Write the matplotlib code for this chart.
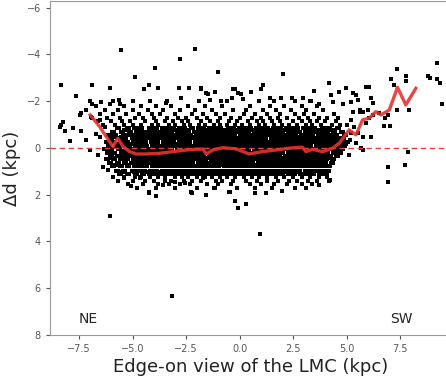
import numpy as np
import matplotlib
matplotlib.use("Agg")
import matplotlib.pyplot as plt

# running median of the offset along the edge-on axis (red curve)
med_x = [-6.98, -6.54, -6.23, -5.92, -5.69, -5.45, -5.14, -4.83, -4.36, -3.74, -3.12, -2.49,
         -2.02, -1.71, -1.56, -1.25, -0.79, -0.17, 0.45, 1.07, 1.70, 2.32, 2.94, 3.10, 3.41,
         3.88, 4.35, 4.66, 5.12, 5.44, 5.75, 6.06, 6.37, 6.60, 7.00, 7.38, 7.77, 8.24]
med_y = [-1.41, -0.91, -0.48, -0.06, -0.41, -0.06, 0.16, 0.26, 0.26, 0.23, 0.16, 0.09,
         0.06, 0.05, 0.26, 0.09, -0.01, 0.04, 0.26, 0.16, 0.09, 0.01, -0.03, 0.16, 0.06,
         0.16, 0.01, -0.20, -0.77, -0.56, -1.20, -1.27, -1.55, -1.41, -1.62, -2.59, -1.84, -2.55]

# dense body of the star sample, one row of x positions per delta-d level
core_rows = {
    -0.83: [-5.7, -5.2, -4.9, -4.6, -4.2, -3.9, -3.6, -3.4, -3.1, -2.8, -2.6, -2.2, -1.9, -1.7, -1.4,
            -1.2, -0.9, -0.5, -0.3, 0.0, 0.3, 0.5, 0.8, 1.1, 1.3, 1.6, 1.9, 2.2, 2.4, 2.7, 3.0, 3.3,
            3.5, 3.9, 4.2, 4.6],
    -0.69: [-5.9, -5.5, -5.1, -4.8, -4.5, -4.3, -4.0, -3.7, -3.45, -3.2, -2.9, -2.7, -2.4, -2.1,
            -1.85, -1.55, -1.3, -1.05, -0.8, -0.6, -0.4, -0.1, 0.15, 0.4, 0.7, 0.95, 1.2, 1.45, 1.7,
            2.0, 2.3, 2.55, 2.8, 3.1, 3.35, 3.6, 3.85, 4.1, 4.4, 4.8],
    -0.54: [-6.1, -5.8, -5.4, -5.15, -4.9, -4.65, -4.4, -4.15, -3.85, -3.6, -3.35, -3.05, -2.85,
            -2.6, -2.3, -2.0, -1.75, -1.5, -1.25, -1.0, -0.75, -0.5, -0.25, 0.05, 0.3, 0.55, 0.8,
            1.05, 1.35, 1.6, 1.85, 2.1, 2.35, 2.6, 2.9, 3.15, 3.4, 3.7, 3.95, 4.25, 4.5, 4.95],
    -0.41: [-6.0, -5.65, -5.35, -5.0, -4.75, -4.5, -4.25, -3.95, -3.7, -3.45, -3.25, -2.95, -2.7,
            -2.45, -2.2, -1.95, -1.65, -1.4, -1.15, -0.9, -0.65, -0.45, -0.2, 0.0, 0.25, 0.5, 0.75,
            1.0, 1.2, 1.5, 1.75, 2.0, 2.25, 2.5, 2.75, 3.0, 3.3, 3.55, 3.8, 4.05, 4.3, 4.6, 4.85],
    -0.26: [-6.2, -5.9, -5.55, -5.25, -4.95, -4.7, -4.4, -4.1, -3.85, -3.55, -3.3, -3.1, -2.8,
            -2.55, -2.35, -2.05, -1.8, -1.55, -1.3, -1.05, -0.8, -0.55, -0.3, -0.05, 0.2, 0.45,
            0.65, 0.9, 1.15, 1.4, 1.65, 1.9, 2.15, 2.4, 2.65, 2.9, 3.15, 3.45, 3.7, 3.95, 4.2, 4.45,
            4.75, 5.0],
    -0.09: [-6.1, -5.75, -5.45, -5.15, -4.85, -4.6, -4.35, -4.05, -3.8, -3.55, -3.25, -3.0, -2.75,
            -2.5, -2.25, -2.0, -1.7, -1.45, -1.2, -0.95, -0.7, -0.45, -0.2, 0.05, 0.3, 0.55, 0.8,
            1.05, 1.3, 1.55, 1.8, 2.05, 2.3, 2.55, 2.8, 3.05, 3.3, 3.6, 3.85, 4.1, 4.35, 4.65, 4.9],
    0.04: [-6.3, -6.0, -5.65, -5.3, -5.05, -4.8, -4.5, -4.25, -3.95, -3.7, -3.45, -3.2, -2.9, -2.65,
           -2.4, -2.15, -1.9, -1.6, -1.35, -1.1, -0.85, -0.6, -0.35, -0.1, 0.15, 0.4, 0.7, 0.95, 1.2,
           1.45, 1.7, 1.95, 2.2, 2.45, 2.7, 2.95, 3.2, 3.5, 3.75, 4.0, 4.25, 4.5, 4.8],
    0.21: [-6.15, -5.85, -5.5, -5.2, -4.95, -4.65, -4.4, -4.15, -3.9, -3.6, -3.35, -3.1, -2.85,
           -2.6, -2.3, -2.05, -1.8, -1.55, -1.3, -1.0, -0.75, -0.5, -0.25, 0.0, 0.25, 0.5, 0.75,
           1.0, 1.25, 1.5, 1.75, 2.0, 2.3, 2.55, 2.8, 3.05, 3.35, 3.6, 3.85, 4.1, 4.4, 4.7],
    0.34: [-6.0, -5.7, -5.4, -5.1, -4.85, -4.55, -4.3, -4.0, -3.75, -3.5, -3.25, -2.95, -2.7, -2.45,
           -2.2, -1.95, -1.7, -1.4, -1.15, -0.9, -0.65, -0.4, -0.15, 0.1, 0.35, 0.6, 0.85, 1.1, 1.35,
           1.6, 1.85, 2.15, 2.4, 2.65, 2.9, 3.15, 3.45, 3.7, 3.95, 4.25, 4.55],
    0.49: [-6.2, -5.85, -5.55, -5.25, -4.95, -4.7, -4.45, -4.2, -3.9, -3.65, -3.4, -3.15, -2.9,
           -2.6, -2.35, -2.1, -1.85, -1.6, -1.3, -1.05, -0.8, -0.55, -0.3, -0.05, 0.2, 0.45, 0.7,
           0.95, 1.2, 1.45, 1.75, 2.0, 2.25, 2.5, 2.75, 3.0, 3.3, 3.55, 3.8, 4.05, 4.35],
    0.66: [-6.05, -5.7, -5.35, -5.05, -4.8, -4.5, -4.25, -3.95, -3.7, -3.45, -3.2, -2.95, -2.7,
           -2.45, -2.2, -1.9, -1.65, -1.4, -1.15, -0.9, -0.65, -0.4, -0.15, 0.1, 0.35, 0.6, 0.9,
           1.15, 1.4, 1.65, 1.9, 2.15, 2.4, 2.7, 2.95, 3.2, 3.5, 3.75, 4.0, 4.3],
    0.79: [-5.9, -5.55, -5.2, -4.9, -4.6, -4.35, -4.05, -3.8, -3.55, -3.3, -3.05, -2.8, -2.5, -2.25,
           -2.0, -1.75, -1.5, -1.25, -1.0, -0.7, -0.45, -0.2, 0.05, 0.3, 0.55, 0.8, 1.05, 1.3, 1.55,
           1.85, 2.1, 2.35, 2.6, 2.85, 3.1, 3.4, 3.65, 3.95, 4.2],
    0.97: [-5.75, -5.4, -5.0, -4.7, -4.45, -4.15, -3.9, -3.6, -3.35, -3.1, -2.85, -2.55, -2.3,
           -2.05, -1.8, -1.55, -1.3, -1.05, -0.8, -0.55, -0.3, -0.05, 0.2, 0.5, 0.75, 1.0, 1.25,
           1.5, 1.8, 2.05, 2.3, 2.55, 2.8, 3.1, 3.35, 3.6, 3.9, 4.15],
    1.12: [-5.6, -5.2, -4.85, -4.5, -4.2, -3.95, -3.65, -3.4, -3.1, -2.85, -2.6, -2.3, -2.05, -1.8,
           -1.5, -1.25, -0.95, -0.7, -0.45, -0.15, 0.1, 0.4, 0.65, 0.9, 1.2, 1.45, 1.75, 2.0, 2.3,
           2.55, 2.85, 3.15, 3.45, 3.75, 4.05],
}

# extra stars sitting between the rows above
fill_rows = {
    -0.76: [-5.35, -4.72, -4.1, -3.52, -3.0, -2.5, -1.6, -1.05, -0.7, -0.2, 0.55, 0.9, 1.4, 2.1,
            2.65, 3.2, 3.75, 4.3],
    -0.47: [-5.9, -5.5, -4.8, -4.35, -3.9, -3.2, -2.75, -2.1, -1.6, -1.1, -0.55, 0.1, 0.65, 1.1,
            1.7, 2.2, 2.8, 3.25, 3.85, 4.4],
    -0.17: [-5.7, -5.1, -4.5, -4.0, -3.4, -2.9, -2.4, -1.9, -1.35, -0.85, -0.35, 0.15, 0.7, 1.2,
            1.75, 2.25, 2.75, 3.3, 3.8, 4.3, 4.95],
    0.12: [-6.05, -5.4, -4.85, -4.3, -3.8, -3.25, -2.7, -2.2, -1.7, -1.2, -0.7, -0.2, 0.3, 0.85,
           1.35, 1.85, 2.35, 2.9, 3.4, 3.95, 4.45],
    0.42: [-5.95, -5.3, -4.7, -4.1, -3.6, -3.05, -2.55, -2.0, -1.5, -1.0, -0.5, 0.0, 0.5, 1.0, 1.5,
           2.05, 2.55, 3.05, 3.6, 4.1],
    0.72: [-5.8, -5.2, -4.6, -4.05, -3.5, -3.0, -2.4, -1.85, -1.3, -0.8, -0.25, 0.25, 0.75, 1.3,
           1.8, 2.3, 2.85, 3.35, 3.9],
    1.04: [-5.5, -4.9, -4.3, -3.75, -3.2, -2.7, -2.15, -1.6, -1.1, -0.6, -0.05, 0.45, 1.0, 1.6,
           2.15, 2.7, 3.3, 3.85],
}

# thinner edges of the body
edge_rows = {
    -1.0: [-6.4, -5.8, -5.4, -5.0, -4.6, -4.1, -3.8, -3.3, -3.0, -2.6, -2.3, -1.9, -1.6, -1.2, -0.9,
           -0.6, -0.2, 0.1, 0.5, 0.9, 1.2, 1.6, 2.0, 2.3, 2.7, 3.1, 3.4, 3.8, 4.3, 4.7],
    -1.15: [-6.6, -6.0, -5.5, -5.1, -4.4, -3.9, -3.5, -3.1, -2.7, -2.4, -1.8, -1.4, -1.0, -0.5,
            -0.1, 0.4, 0.8, 1.1, 1.5, 1.9, 2.5, 2.9, 3.3, 3.6, 4.0, 4.5],
    -1.3: [-6.9, -6.2, -5.6, -4.9, -4.5, -4.0, -3.4, -2.9, -2.5, -2.0, -1.5, -0.9, -0.4, 0.0, 0.6,
           1.0, 1.4, 1.8, 2.2, 2.8, 3.2, 3.7, 4.1, 4.6],
    -1.45: [-6.5, -5.9, -5.3, -4.7, -4.1, -3.7, -3.0, -2.2, -1.7, -1.1, -0.7, 0.2, 0.7, 1.3, 1.9,
            2.6, 3.0, 3.5, 4.4],
    -1.6: [-7.2, -6.3, -5.7, -5.0, -4.3, -3.6, -2.8, -2.1, -1.3, -0.3, 0.3, 1.1, 1.7, 2.4, 3.1, 3.9],
    -1.8: [-6.7, -5.4, -4.6, -3.9, -3.2, -2.4, -1.6, -0.8, 0.5, 1.4, 2.1, 2.9, 3.6],
    -2.0: [-7.0, -5.9, -5.0, -4.2, -3.4, -1.9, -0.6, 0.9, 1.6, 2.6, 3.3],
    1.26: [-5.9, -5.4, -4.9, -4.6, -4.2, -3.8, -3.5, -3.0, -2.7, -2.4, -2.0, -1.6, -1.3, -0.9, -0.6,
           -0.2, 0.2, 0.6, 0.9, 1.3, 1.7, 2.1, 2.5, 2.9, 3.3, 3.7, 4.1],
    1.4: [-5.7, -5.0, -4.4, -4.0, -3.5, -3.2, -2.6, -2.2, -1.8, -1.1, -0.8, -0.3, 0.3, 0.8, 1.3,
          1.8, 2.3, 2.7, 3.2, 3.6, 4.2],
    1.55: [-5.2, -4.5, -3.8, -3.3, -2.8, -2.3, -1.5, -1.0, -0.4, 0.5, 1.0, 1.6, 2.2, 2.9, 3.4],
    1.7: [-4.8, -3.9, -3.0, -2.0, -1.2, -0.1, 0.7, 1.5, 2.6, 3.1],
}

# scattered stars outside the body
ne_pts = [(-8.33, -2.69), (-7.66, -2.24), (-6.88, -2.69), (-6.07, -2.58), (-6.88, -1.88),
          (-6.46, -1.95), (-6.07, -1.87), (-5.64, -2.05), (-5.57, -1.88), (-7.40, -1.51),
          (-8.26, -1.12), (-8.33, -0.98), (-8.18, -0.74), (-7.79, -0.84), (-7.40, -0.74),
          (-7.94, -0.30), (-7.17, -0.34), (-6.93, -1.34), (-6.54, -1.20), (-6.31, -0.91),
          (-6.54, -0.48), (-7.00, 0.09), (-7.48, -1.41), (-8.40, -0.90), (-6.39, 0.80),
          (-6.15, 0.94), (-6.07, 2.93), (-5.06, 1.65), (-4.67, 1.30), (-5.42, 1.30),
          (-4.24, 1.87), (-6.70, -0.60), (-6.60, 0.30)]
mid_pts = [(-5.56, -4.17), (-4.87, -3.05), (-4.47, -2.51), (-4.24, -2.69), (-3.96, -3.42),
           (-3.82, -2.58), (-2.77, -3.79), (-2.09, -4.24), (-2.85, -2.58), (-2.34, -2.58),
           (-1.82, -2.58), (-1.03, -3.26), (-2.76, -2.12), (-1.79, -2.51), (-1.48, -2.29),
           (-1.56, -2.34), (-1.17, -2.38), (-0.31, -2.51), (-0.08, -2.34), (0.08, -2.31),
           (-3.43, -1.94), (-2.72, -2.12), (-1.40, -2.05), (-0.86, -2.02), (-0.34, -2.12),
           (0.15, -2.08), (2.02, -3.15), (4.16, -2.79), (1.09, -2.69), (1.01, -2.51),
           (0.55, -2.41), (3.50, -2.44), (4.67, -2.41), (4.98, -2.55), (1.40, -2.15),
           (1.95, -2.15), (2.46, -2.15), (2.96, -2.15), (3.35, -2.02), (3.71, -1.87),
           (4.29, -2.26), (4.36, -1.98), (4.83, -1.87), (-0.22, -2.51)]
low_pts = [(-4.21, 1.91), (-2.21, 1.91), (-3.16, 6.32), (0.97, 3.66), (-0.22, 2.29),
           (-0.09, 2.55), (0.29, 2.39), (-0.51, 1.87), (0.72, 1.91), (1.23, 1.91),
           (-3.58, 1.58), (-3.04, 1.44), (-2.57, 1.51), (-2.26, 1.87), (-1.71, 1.30),
           (-1.17, 1.72), (-0.47, 1.87), (4.21, 1.37), (-1.55, 2.00), (2.00, 1.85),
           (3.70, 1.60), (-3.90, 2.05)]
sw_pts = [(9.22, -3.62), (8.83, -3.08), (8.88, -2.98), (9.23, -2.93), (9.35, -2.79),
          (9.47, -1.88), (7.37, -3.36), (7.09, -2.93), (7.76, -3.08), (7.76, -2.88),
          (7.21, -2.69), (7.90, -1.60), (7.37, -1.60), (6.93, -1.41), (6.54, -1.48),
          (6.78, -1.27), (6.74, -0.94), (7.01, -0.94), (6.07, -2.62), (5.89, -2.62),
          (6.15, -2.12), (6.23, -1.91), (6.00, -1.62), (5.61, -1.62), (5.76, -1.55),
          (6.07, -1.27), (6.23, -1.41), (5.92, -1.06), (5.76, -0.48), (6.15, -0.48),
          (5.30, -2.34), (5.45, -2.26), (5.22, -1.98), (5.53, -2.05), (5.30, -1.55),
          (5.61, -1.55), (5.22, -1.20), (5.37, -0.91), (5.22, -0.63), (5.53, -0.63),
          (5.14, -0.34), (5.45, -0.20), (5.68, 0.01), (7.87, 0.18), (6.96, 0.80),
          (7.74, 0.73), (6.96, 1.47), (5.76, 0.09), (5.10, 0.30), (5.00, -1.00)]


def unpack_rows(rows):
    rx, ry = [], []
    for yv, xl in rows.items():
        rx += xl
        ry += [yv] * len(xl)
    return rx, ry


core_x, core_y = unpack_rows(core_rows)
fx, fy = unpack_rows(fill_rows)
core_x += fx
core_y += fy
edge_x, edge_y = unpack_rows(edge_rows)
out_x, out_y = [], []
for pts in (ne_pts, mid_pts, low_pts, sw_pts):
    out_x += [p[0] for p in pts]
    out_y += [p[1] for p in pts]

# stars in the crowded part look like short horizontal dashes
dash = [(-1.4, -1), (1.4, -1), (1.4, 1), (-1.4, 1), (-1.4, -1)]

fig = plt.figure(figsize=(4.46, 3.81), dpi=100)
ax = fig.add_axes([0.1121, 0.1207, 0.899, 0.8766])

ax.scatter(core_x, core_y, s=14, marker=dash, color="black", linewidths=0, zorder=2)
ax.scatter(edge_x, edge_y, s=11, marker=dash, color="black", linewidths=0, zorder=2)
ax.scatter(out_x, out_y, s=6.5, marker="s", color="black", linewidths=0, zorder=2)
ax.axhline(0, color="#e8413c", ls="--", lw=1.0, dashes=(4, 2.5), zorder=3)
ax.plot(med_x, med_y, color="#e8322f", lw=2.4, alpha=0.9, zorder=4)

ax.text(-7.5, 7.3, "NE", fontsize=10, color="#222222", va="center", ha="left")
ax.text(7.05, 7.3, "SW", fontsize=10, color="#222222", va="center", ha="left")

ax.set_xlim(-8.86, 9.88)
ax.set_ylim(8, -6.28)
ax.set_xticks([-7.5, -5.0, -2.5, 0.0, 2.5, 5.0, 7.5])
ax.set_yticks([-6, -4, -2, 0, 2, 4, 6, 8])
ax.tick_params(labelsize=7, colors="#555555", length=3, width=0.8)
for sp in ax.spines.values():
    sp.set_color("#999999")
ax.set_xlabel("Edge-on view of the LMC (kpc)", fontsize=13, color="#222222", labelpad=3)
ax.set_ylabel("Δd (kpc)", fontsize=13, color="#222222", labelpad=4)

fig.savefig("out.png", dpi=100)
